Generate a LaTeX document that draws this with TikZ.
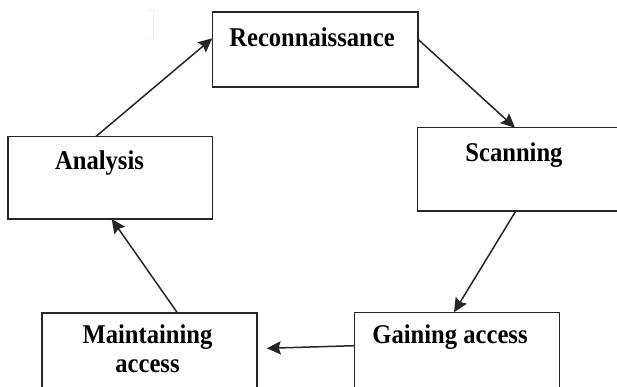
\documentclass[tikz,border=0pt]{standalone}
\usepackage{fontspec}
\usepackage{graphicx}
\setmainfont{Liberation Serif}
\usetikzlibrary{arrows.meta}
\newcommand{\tallword}[1]{\scalebox{1}[1.1]{#1}}
\tikzset{
  phase/.style={draw=black!85, line width=1.6pt, inner sep=0pt, outer sep=0pt,
    anchor=north west, fill=white},
  phasetext/.style={anchor=base, inner sep=0pt, align=center,
    font=\fontsize{24.6}{29.7}\selectfont\bfseries},
  flow/.style={draw=black!85, line width=1.5pt,
    -{Stealth[length=14pt,width=13pt,inset=2pt]}},
}
\begin{document}
\begin{tikzpicture}[x=1pt,y=-1pt]
  \useasboundingbox (0,0) rectangle (617,387);
  \clip (0,0) rectangle (617,387);
  \fill[white] (0,0) rectangle (617,387);

  % faint text cursor near the top
  \draw[black!6, line width=0.8pt] (149,10) -- (157,10) (153,10) -- (153,38) (149,38) -- (157,38);

  % the five phases
  \node[phase, minimum width=205.4pt, minimum height=75pt]  (rec) at (212.3,12.3) {};
  \node[phase, minimum width=230pt,   minimum height=83pt]  (scn) at (417.3,127.7) {};
  \node[phase, minimum width=204.6pt, minimum height=82.3pt] (ana) at (7.7,136.7) {};
  \node[phase, minimum width=215pt,   minimum height=100pt] (mai) at (41.7,312.7) {};
  \node[phase, minimum width=205pt,   minimum height=100pt] (gai) at (354.3,312.3) {};

  % their labels
  \node[phasetext] (rect) at (312,46.7)  {\tallword{Reconnaissance}};
  \node[phasetext] (scnt) at (514,161.7) {\tallword{Scanning}};
  \node[phasetext] (anat) at (99.5,170)  {\tallword{Analysis}};
  \node[phasetext] (mait) at (147.5,372.7) {\tallword{Maintaining}\\\tallword{access}};
  \node[phasetext] (gait) at (450,343)   {\tallword{Gaining access}};

  % end of the arrow that stops short of its box
  \coordinate (maiin) at ([xshift=10pt,yshift=-35.6pt]mai.north east);

  % the cycle
  \draw[flow] ([xshift=88pt]ana.north west) -- ([yshift=-26pt]rec.north west);
  \draw[flow] ([yshift=-26.7pt]rec.north east) -- ([xshift=97.7pt]scn.north west);
  \draw[flow] ([xshift=98.7pt]scn.south west) -- ([xshift=99.7pt]gai.north west);
  \draw[flow] ([yshift=-33.4pt]gai.north west) -- (maiin);
  \draw[flow] ([xshift=135.6pt]mai.north west) -- ([xshift=104pt]ana.south west);
\end{tikzpicture}
\end{document}
